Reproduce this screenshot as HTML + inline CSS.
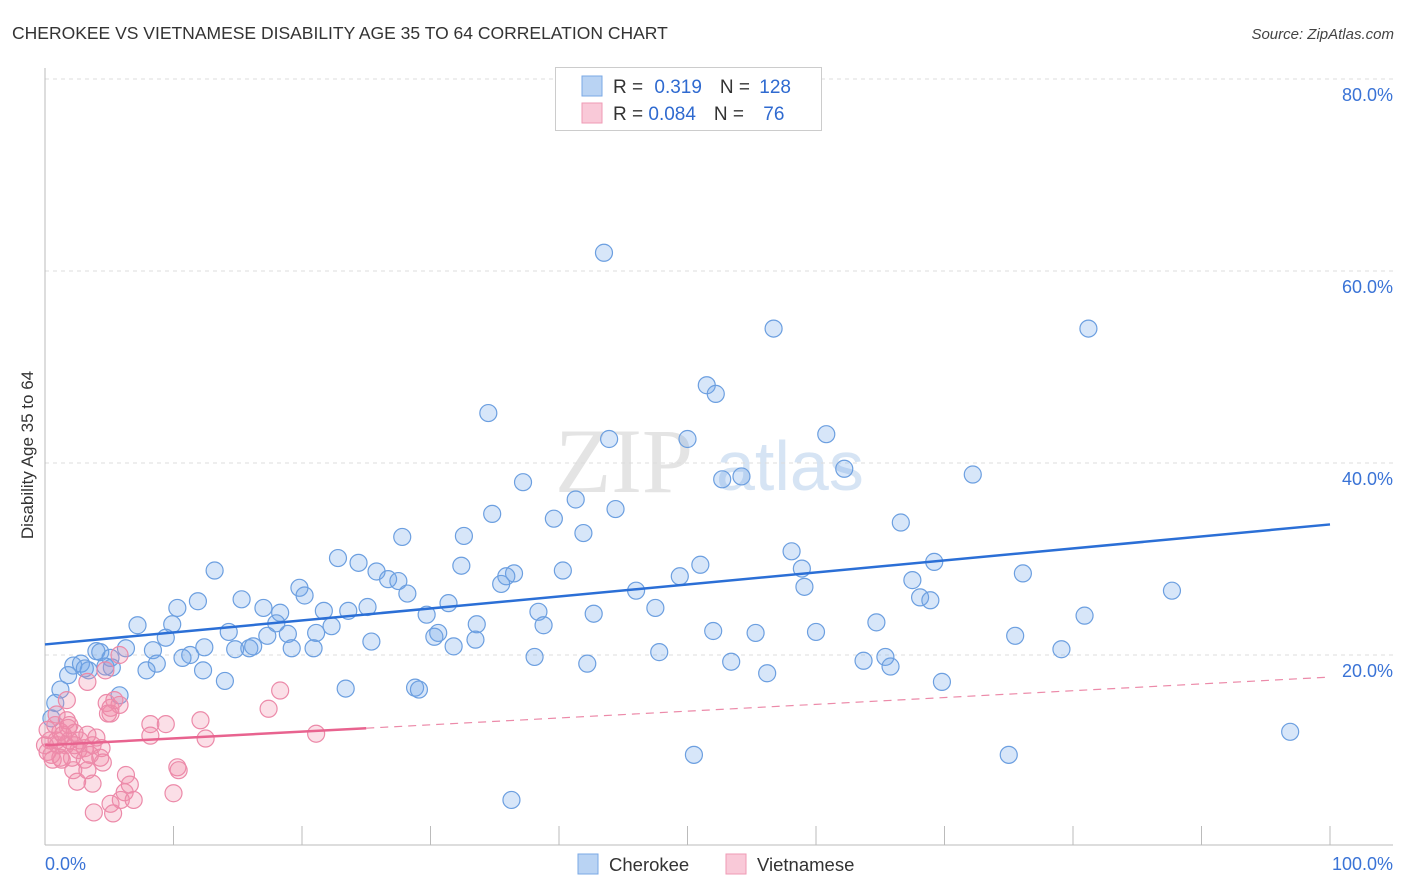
<!DOCTYPE html>
<html><head><meta charset="utf-8"><style>
body{margin:0;background:#fff;font-family:"Liberation Sans",sans-serif}
svg{display:block}
</style></head><body>
<svg id="chart" width="1406" height="892" xmlns="http://www.w3.org/2000/svg">
<text x="12" y="39" font-size="17.5" fill="#333" font-family="Liberation Sans">CHEROKEE VS VIETNAMESE DISABILITY AGE 35 TO 64 CORRELATION CHART</text>
<text x="1394" y="39" font-size="15" fill="#444" font-style="italic" text-anchor="end">Source: ZipAtlas.com</text>
<text transform="translate(33,455) rotate(-90)" font-size="17" fill="#333" text-anchor="middle">Disability Age 35 to 64</text>
<g>
<text x="555" y="492" font-size="92" fill="#e4e4e4" font-family="Liberation Serif">ZIP</text>
<text x="716" y="490" font-size="70" fill="#d6e4f4">atlas</text>
</g>
<g id="grid"></g><g id="axes"></g><g id="pts"></g><g id="lines"></g>
<g>
<rect x="555.5" y="67.5" width="266" height="63" fill="#fff" stroke="#ccc"/>
<rect x="582" y="76" width="20" height="20" fill="#b9d3f3" stroke="#7aa8e6"/>
<rect x="582" y="103" width="20" height="20" fill="#f9c9d8" stroke="#ef9ab5"/>
<text x="613" y="93" font-size="19" fill="#333">R = <tspan fill="#2f6ad0" dx="6">0.319</tspan><tspan dx="18" fill="#333">N = </tspan><tspan fill="#2f6ad0" dx="4">128</tspan></text>
<text x="613" y="120" font-size="19" fill="#333">R = <tspan fill="#2f6ad0">0.084</tspan><tspan dx="18" fill="#333">N = </tspan><tspan fill="#2f6ad0" dx="14">76</tspan></text>
</g>
<g>
<rect x="578" y="854" width="20" height="20" fill="#b9d3f3" stroke="#7aa8e6"/>
<text x="609" y="871" font-size="18.5" fill="#333">Cherokee</text>
<rect x="726" y="854" width="20" height="20" fill="#f9c9d8" stroke="#ef9ab5"/>
<text x="757" y="871" font-size="18.5" fill="#333">Vietnamese</text>
</g>
</svg>
<script>
const yTicks=[20,40,60,80];
const yTickLabels=["20.0%","40.0%","60.0%","80.0%"];
const xTickLabels=["0.0%","100.0%"];
const cherokeeX=[43.5,56.7,81.2,34.5,51.5,52.2,43.9,50.0,60.8,62.2,52.7,54.2,72.2,37.2,41.3,44.4,34.8,39.6,66.6,32.6,41.9,27.8,58.1,22.8,24.4,69.2,51.0,58.9,32.4,36.5,40.3,25.8,26.7,35.9,49.4,27.5,76.1,13.2,19.8,67.5,20.2,35.5,28.2,59.1,87.7,46.0,15.3,68.1,68.9,11.9,31.4,25.1,10.3,17.0,21.7,23.6,47.5,18.3,29.7,42.7,38.4,80.9,18.0,7.2,9.9,22.3,64.7,33.6,38.8,14.3,52.0,21.1,18.9,17.3,30.6,55.3,60.0,75.5,9.4,25.4,30.3,33.5,31.8,12.4,15.9,16.2,14.8,19.2,20.9,6.3,8.4,4.0,4.3,79.1,47.8,38.1,11.3,10.7,65.4,5.1,8.7,63.7,53.4,2.2,2.8,5.2,7.9,12.3,42.2,3.4,56.2,65.8,1.8,14.0,69.8,1.2,23.4,28.8,29.1,5.8,0.8,0.5,50.5,75.0,96.9,36.3,4.7,3.1];
const cherokeeY=[61.9,54.0,54.0,45.2,48.1,47.2,42.5,42.5,43.0,39.4,38.3,38.6,38.8,38.0,36.2,35.2,34.7,34.2,33.8,32.4,32.7,32.3,30.8,30.1,29.6,29.7,29.4,29.0,29.3,28.5,28.8,28.7,27.9,28.2,28.2,27.7,28.5,28.8,27.0,27.8,26.2,27.4,26.4,27.1,26.7,26.7,25.8,26.0,25.7,25.6,25.4,25.0,24.9,24.9,24.6,24.6,24.9,24.4,24.2,24.3,24.5,24.1,23.3,23.1,23.2,23.0,23.4,23.2,23.1,22.4,22.5,22.3,22.2,22.0,22.3,22.3,22.4,22.0,21.8,21.4,21.9,21.6,20.9,20.8,20.7,20.9,20.6,20.7,20.7,20.7,20.5,20.4,20.3,20.6,20.3,19.8,20.0,19.7,19.8,19.7,19.1,19.4,19.3,18.9,19.1,18.7,18.4,18.4,19.1,18.4,18.1,18.8,17.9,17.3,17.2,16.4,16.5,16.6,16.4,15.8,15.0,13.4,9.6,9.6,12.0,4.9,18.8,18.6];
const vietX=[5.8,4.7,3.3,1.7,4.8,5.8,5.1,8.2,9.4,12.1,17.4,18.3,21.1,8.2,12.5,10.3,10.4,10.0,6.3,6.2,6.6,5.9,6.9,5.1,5.3,3.8,3.7,3.3,2.5,2.2,4.3,4.4,4.5,3.1,2.1,1.0,0.4,0.2,0.8,1.4,1.6,1.9,2.6,2.7,3.7,4.0,1.2,0.5,1.9,1.7,0.9,1.3,2.3,0.9,3.5,5.1,4.9,5.4,0.2,0.6,3.1,1.2,1.8,3.3,2.3,0.0];
const vietY=[20.0,18.4,17.2,15.3,15.0,14.8,13.9,12.8,12.8,13.2,14.4,16.3,11.8,11.6,11.3,8.3,8.0,5.6,7.5,5.7,6.5,4.9,4.9,4.5,3.5,3.6,6.6,8.0,6.8,8.0,9.3,10.3,8.8,10.3,9.3,10.6,11.1,12.2,12.7,11.7,10.6,11.1,10.1,11.1,10.6,11.4,9.3,9.6,12.7,13.2,13.8,9.1,10.6,11.1,9.6,14.5,13.9,15.3,9.9,9.1,9.1,12.0,12.4,11.7,11.9,10.6];
const cherokeeTrend=[21.1,33.6];
const vietTrend=[10.6,17.7];
const vietSolidEnd=25;

const NS="http://www.w3.org/2000/svg";
const X0=45,X1=1330,Y0=847,PER=9.6;
function sx(v){return X0+(X1-X0)*v/100;}
function sy(v){return Y0-v*PER;}
function mk(tag,attrs,parent){const e=document.createElementNS(NS,tag);for(const k in attrs)e.setAttribute(k,attrs[k]);parent.appendChild(e);return e;}
const grid=document.getElementById('grid'),axes=document.getElementById('axes'),pts=document.getElementById('pts'),lines=document.getElementById('lines');
yTicks.forEach((t,i)=>{
 const g=mk('line',{x1:X0,x2:1393,y1:sy(t),y2:sy(t),stroke:'#ddd','stroke-dasharray':'4,4'},grid);
 
 
 const l=mk('text',{x:1393,y:sy(t)+22,'font-size':18,fill:'#3a73d6','text-anchor':'end'},axes);
 l.textContent=yTickLabels[i];
 
 
});
const ya=mk('line',{x1:X0,x2:X0,y1:68,y2:845,stroke:'#bbb'},axes);


const xa=mk('line',{x1:X0,x2:1393,y1:845,y2:845,stroke:'#bbb'},axes);


for(let i=0;i<=10;i++){
 const tk=mk('line',{x1:sx(i*10),x2:sx(i*10),y1:826,y2:845,stroke:'#bbb'},axes);
 
 
}
const xl0=mk('text',{x:45,y:870,'font-size':18,fill:'#3a73d6'},axes);xl0.textContent=xTickLabels[0];


const xl1=mk('text',{x:1393,y:870,'font-size':18,fill:'#3a73d6','text-anchor':'end'},axes);xl1.textContent=xTickLabels[1];


cherokeeX.forEach((v,i)=>{
 const c=mk('circle',{cx:sx(v),cy:sy(cherokeeY[i]),r:8.5,fill:'rgba(110,165,232,0.28)',stroke:'#6c9fe0','stroke-width':1.2},pts);
 
 
});
vietX.forEach((v,i)=>{
 const c=mk('circle',{cx:sx(v),cy:sy(vietY[i]),r:8.5,fill:'rgba(242,140,170,0.28)',stroke:'#ec8aa9','stroke-width':1.2},pts);
 
 
});
const bl=mk('line',{x1:sx(0),y1:sy(cherokeeTrend[0]),x2:sx(100),y2:sy(cherokeeTrend[1]),stroke:'#2b6fd6','stroke-width':2.5},lines);


const vAt=x=>vietTrend[0]+(vietTrend[1]-vietTrend[0])*x/100;
const pl=mk('line',{x1:sx(0),y1:sy(vAt(0)),x2:sx(vietSolidEnd),y2:sy(vAt(vietSolidEnd)),stroke:'#e8638f','stroke-width':2.5},lines);


const pd=mk('line',{x1:sx(vietSolidEnd),y1:sy(vAt(vietSolidEnd)),x2:sx(100),y2:sy(vAt(100)),stroke:'#ec8aa9','stroke-width':1.2,'stroke-dasharray':'8,6'},lines);


</script>
</body></html>
